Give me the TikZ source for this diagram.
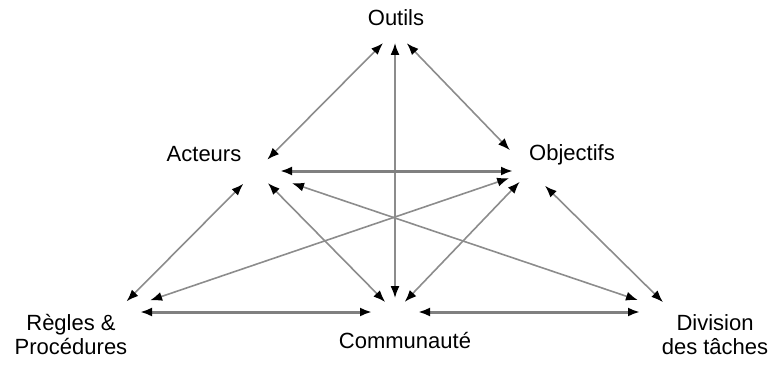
\documentclass[tikz,border=0pt]{standalone}
\usepackage{fontspec}
\setmainfont{Liberation Sans}
\usetikzlibrary{arrows.meta}

\begin{document}
\begin{tikzpicture}[x=1pt, y=1pt,
    term/.style={font=\fontsize{22}{24}\selectfont, align=center, inner sep=0pt},
    link/.style={{Latex[length=12pt,width=9pt,black]}-{Latex[length=12pt,width=9pt,black]}, draw=gray!90, line width=1.6pt},
    mainlink/.style={link, draw=gray, line width=3pt}
]
\useasboundingbox (0,0) rectangle (770,365);
\node[term] (outils) at (396,347) {Outils};
\node[term] (acteurs) at (204,211) {Acteurs};
\node[term] (objectifs) at (572,210) {Objectifs};
\node[term] (regles) at (71,30) {Règles \&\\Procédures};
\node[term] (communaute) at (405,24) {Communauté};
\node[term] (division) at (715,30) {Division\\des tâches};
\coordinate (outilsC) at (395,334);
\coordinate (acteursC) at (256,194);
\coordinate (objectifsC) at (530,194);
\coordinate (reglesC) at (116,53);
\coordinate (communauteC) at (395,53);
\coordinate (divisionC) at (673,53);
\draw[link, shorten <=17pt, shorten >=16pt] (outilsC) -- (acteursC);
\draw[link, shorten <=12pt, shorten >=14pt] (outilsC) -- (communauteC);
\draw[link, shorten <=17pt, shorten >=29pt] (outilsC) -- (objectifsC);
\draw[mainlink, shorten <=24pt, shorten >=17pt] (acteursC) -- (objectifsC);
\draw[link, shorten <=18pt, shorten >=15pt] (acteursC) -- (reglesC);
\draw[link, shorten <=17pt, shorten >=14pt] (acteursC) -- (communauteC);
\draw[link, shorten <=38pt, shorten >=37pt] (acteursC) -- (divisionC);
\draw[link, shorten <=22pt, shorten >=36pt] (objectifsC) -- (reglesC);
\draw[link, shorten <=15pt, shorten >=14pt] (objectifsC) -- (communauteC);
\draw[link, shorten <=21pt, shorten >=14pt] (objectifsC) -- (divisionC);
\draw[mainlink, shorten <=24pt, shorten >=23pt] (reglesC) -- (communauteC);
\draw[mainlink, shorten <=23pt, shorten >=33pt] (communauteC) -- (divisionC);
\end{tikzpicture}
\end{document}
